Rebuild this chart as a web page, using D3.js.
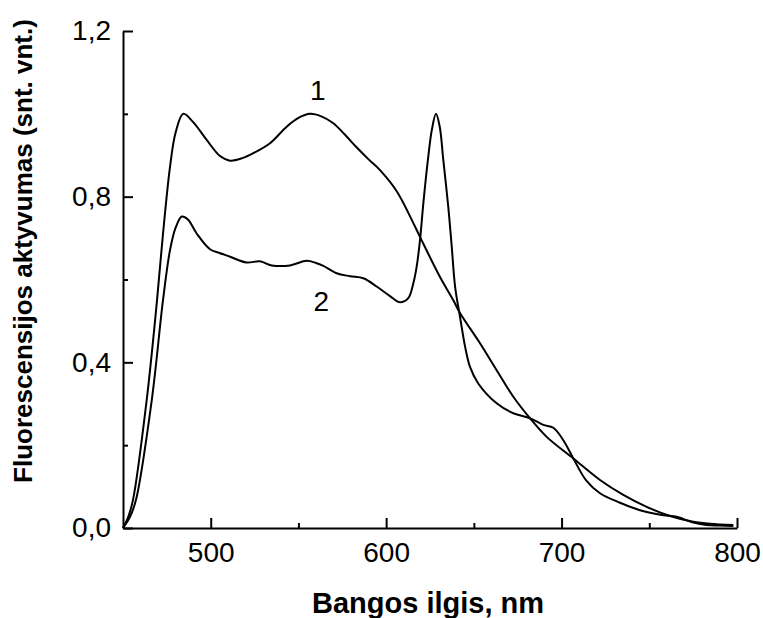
<!DOCTYPE html>
<html>
<head>
<meta charset="utf-8">
<script src="https://cdn.jsdelivr.net/npm/d3@7"></script>
<style>
  body { margin: 0; background: #fff; }
  text { font-family: Arial, "Liberation Sans", sans-serif; }
</style>
</head>
<body>
<script>
// curve 1
var wave1 = [450, 453, 455.7, 463.5, 469.4, 472.8, 476.8, 480, 484.4, 490, 497.7, 505.3, 511, 518, 524.3, 533.8, 543.3, 550, 556.6, 563, 569.7, 576, 583.4, 590, 596.5, 606.2, 615.3, 619.3, 630.7, 638.3, 642.1, 653.5, 663, 672.5, 682, 691.5, 706.7, 721.9, 735.2, 748.5, 761.8, 775.1, 784.6, 797.9];
var fluor1 = [0, 0.027, 0.068, 0.309, 0.55, 0.71, 0.872, 0.955, 1.0, 0.98, 0.937, 0.898, 0.887, 0.893, 0.905, 0.929, 0.969, 0.99, 1.0, 0.994, 0.978, 0.952, 0.918, 0.89, 0.864, 0.812, 0.738, 0.703, 0.606, 0.55, 0.519, 0.446, 0.381, 0.317, 0.265, 0.22, 0.168, 0.116, 0.08, 0.051, 0.029, 0.015, 0.01, 0.007];

// curve 2
var wave2 = [450, 454, 457.4, 466.4, 472.8, 476.8, 480, 483.5, 487, 492, 499.6, 505, 511, 520.5, 528, 534.8, 545.2, 554.7, 560, 564.2, 571.8, 579.4, 587, 594.6, 602.2, 607.9, 612.6, 615.5, 617.4, 619.3, 621.2, 624, 626, 628.4, 630.5, 632.6, 635.4, 637.4, 639.3, 642.1, 645, 647.8, 652.5, 663, 672.5, 682, 689.6, 695.3, 701, 706.7, 714, 721.9, 733.3, 744.7, 758, 765.6, 775.1, 782.7, 790.3, 797.9];
var fluor2 = [0, 0.027, 0.068, 0.309, 0.55, 0.671, 0.725, 0.752, 0.745, 0.711, 0.673, 0.664, 0.655, 0.641, 0.644, 0.634, 0.634, 0.645, 0.64, 0.633, 0.615, 0.608, 0.603, 0.583, 0.56, 0.545, 0.555, 0.591, 0.631, 0.695, 0.784, 0.896, 0.96, 1.0, 0.97, 0.888, 0.776, 0.679, 0.583, 0.51, 0.438, 0.389, 0.349, 0.301, 0.277, 0.265, 0.249, 0.242, 0.212, 0.168, 0.115, 0.084, 0.061, 0.043, 0.031, 0.027, 0.013, 0.007, 0.006, 0.005];

var xMajor = [500, 600, 700, 800];
var xMinor = [550, 650, 750];
var yMajor = [0, 0.4, 0.8, 1.2];
var yMinor = [0.2, 0.6, 1.0];

var curveLabels = ["1", "2"];

var width = 763, height = 618;

var svg = d3.select("body").append("svg")
  .attr("width", width)
  .attr("height", height);

var x = d3.scaleLinear().domain([450, 800]).range([123, 737]);
var y = d3.scaleLinear().domain([0, 1.2]).range([528, 31]);

var comma = function(d) { return d3.format(".1f")(d).replace(".", ","); };

// x axis
var gx = svg.append("g")
  .attr("transform", "translate(0,528)")
  .call(d3.axisBottom(x).tickValues(xMajor).tickSize(-10).tickSizeOuter(0).tickPadding(14));
svg.append("g")
  .attr("transform", "translate(0,528)")
  .call(d3.axisBottom(x).tickValues(xMinor).tickSize(-5).tickSizeOuter(0).tickFormat(""))
  .select(".domain").remove();

// y axis
var gy = svg.append("g")
  .attr("transform", "translate(123,0)")
  .call(d3.axisLeft(y).tickValues(yMajor).tickSize(-10).tickSizeOuter(0).tickPadding(12).tickFormat(comma));
svg.append("g")
  .attr("transform", "translate(123,0)")
  .call(d3.axisLeft(y).tickValues(yMinor).tickSize(-5).tickSizeOuter(0).tickFormat(""))
  .select(".domain").remove();

svg.selectAll(".domain, .tick line")
  .attr("stroke", "#000")
  .attr("stroke-width", 2);

svg.selectAll(".tick text")
  .attr("fill", "#000")
  .style("font-size", "28px");

gx.selectAll(".tick text").attr("dy", "0.71em").attr("y", 14);

// curves
var line = d3.line()
  .x(function(d) { return x(d[0]); })
  .y(function(d) { return y(d[1]); })
  .curve(d3.curveCatmullRom.alpha(0.5));

var series = [d3.zip(wave1, fluor1), d3.zip(wave2, fluor2)];

svg.selectAll(".curve")
  .data(series)
  .enter()
  .append("path")
  .attr("class", "curve")
  .attr("d", line)
  .attr("fill", "none")
  .attr("stroke", "#000")
  .attr("stroke-width", 2);

// curve numbers
svg.append("text")
  .attr("x", x(561)).attr("y", y(1.033))
  .attr("text-anchor", "middle")
  .style("font-size", "28px")
  .text(curveLabels[0]);

svg.append("text")
  .attr("x", x(563)).attr("y", y(0.525))
  .attr("text-anchor", "middle")
  .style("font-size", "28px")
  .text(curveLabels[1]);

// axis titles
svg.append("text")
  .attr("x", 428).attr("y", 613)
  .attr("text-anchor", "middle")
  .style("font-size", "29px")
  .style("font-weight", "bold")
  .text("Bangos ilgis, nm");

svg.append("text")
  .attr("transform", "translate(32,251) rotate(-90)")
  .attr("text-anchor", "middle")
  .style("font-size", "26px")
  .style("font-weight", "bold")
  .text("Fluorescensijos aktyvumas (snt. vnt.)");
</script>
</body>
</html>
